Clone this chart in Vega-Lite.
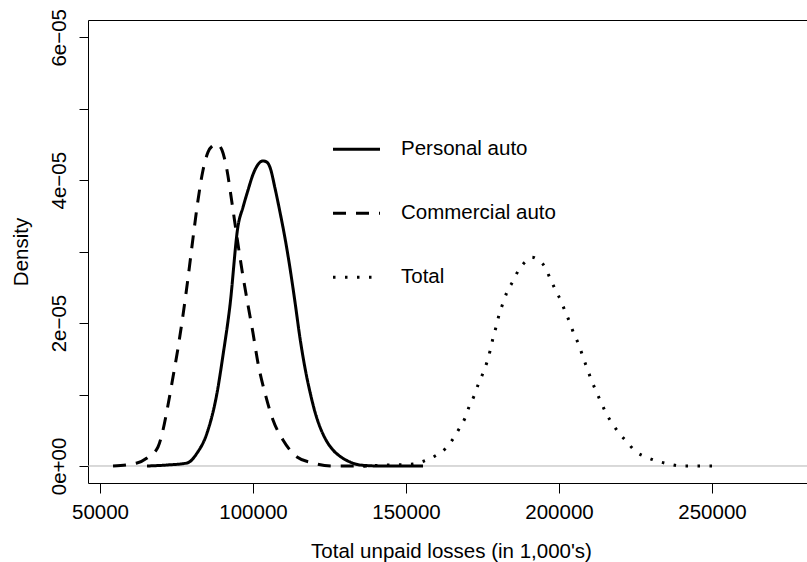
{
  "$schema": "https://vega.github.io/schema/vega-lite/v6.json",
  "width": 720,
  "height": 463,
  "autosize": {"type": "none"},
  "padding": {"left": 88, "top": 20, "right": 0, "bottom": 79},
  "background": "white",
  "config": {
    "view": {"stroke": "black", "strokeWidth": 1},
    "font": "Liberation Sans",
    "axis": {"grid": false, "domain": false, "tickColor": "black", "tickWidth": 1, "labelColor": "black", "titleColor": "black", "labelFont": "Liberation Sans", "titleFont": "Liberation Sans", "labelFontSize": 20.5, "titleFontSize": 20.5, "titleFontWeight": "normal", "labelOverlap": false, "labelFlush": false}
  },
  "datasets": {
    "curves": [
      {"series": "Personal auto", "x": 65360, "d": 0},
      {"series": "Personal auto", "x": 71896, "d": 1.4e-7},
      {"series": "Personal auto", "x": 78432, "d": 4.2e-7},
      {"series": "Personal auto", "x": 81700, "d": 1.8e-6},
      {"series": "Personal auto", "x": 84968, "d": 4.6e-6},
      {"series": "Personal auto", "x": 88236, "d": 1.02e-5},
      {"series": "Personal auto", "x": 90197, "d": 1.55e-5},
      {"series": "Personal auto", "x": 92484, "d": 2.25e-5},
      {"series": "Personal auto", "x": 95098, "d": 3.357e-5},
      {"series": "Personal auto", "x": 96734, "d": 3.622e-5},
      {"series": "Personal auto", "x": 98366, "d": 3.86e-5},
      {"series": "Personal auto", "x": 100000, "d": 4.08e-5},
      {"series": "Personal auto", "x": 101634, "d": 4.22e-5},
      {"series": "Personal auto", "x": 103268, "d": 4.27e-5},
      {"series": "Personal auto", "x": 104575, "d": 4.25e-5},
      {"series": "Personal auto", "x": 105556, "d": 4.18e-5},
      {"series": "Personal auto", "x": 107190, "d": 3.888e-5},
      {"series": "Personal auto", "x": 108824, "d": 3.552e-5},
      {"series": "Personal auto", "x": 110458, "d": 3.189e-5},
      {"series": "Personal auto", "x": 112092, "d": 2.769e-5},
      {"series": "Personal auto", "x": 113726, "d": 2.294e-5},
      {"series": "Personal auto", "x": 115360, "d": 1.79e-5},
      {"series": "Personal auto", "x": 116994, "d": 1.371e-5},
      {"series": "Personal auto", "x": 118628, "d": 1.035e-5},
      {"series": "Personal auto", "x": 120262, "d": 7.55e-6},
      {"series": "Personal auto", "x": 121896, "d": 5.45e-6},
      {"series": "Personal auto", "x": 123857, "d": 3.64e-6},
      {"series": "Personal auto", "x": 126144, "d": 2.24e-6},
      {"series": "Personal auto", "x": 128759, "d": 1.26e-6},
      {"series": "Personal auto", "x": 131700, "d": 5.6e-7},
      {"series": "Personal auto", "x": 134968, "d": 1.4e-7},
      {"series": "Personal auto", "x": 141504, "d": 0},
      {"series": "Personal auto", "x": 155560, "d": 0},
      {"series": "Commercial auto", "x": 54250, "d": 0},
      {"series": "Commercial auto", "x": 62090, "d": 4.2e-7},
      {"series": "Commercial auto", "x": 65360, "d": 1.12e-6},
      {"series": "Commercial auto", "x": 68954, "d": 2.66e-6},
      {"series": "Commercial auto", "x": 70588, "d": 5.03e-6},
      {"series": "Commercial auto", "x": 72222, "d": 8.53e-6},
      {"series": "Commercial auto", "x": 73856, "d": 1.245e-5},
      {"series": "Commercial auto", "x": 75490, "d": 1.65e-5},
      {"series": "Commercial auto", "x": 77124, "d": 2.112e-5},
      {"series": "Commercial auto", "x": 78758, "d": 2.629e-5},
      {"series": "Commercial auto", "x": 80392, "d": 3.189e-5},
      {"series": "Commercial auto", "x": 82026, "d": 3.72e-5},
      {"series": "Commercial auto", "x": 83660, "d": 4.14e-5},
      {"series": "Commercial auto", "x": 85294, "d": 4.392e-5},
      {"series": "Commercial auto", "x": 86602, "d": 4.475e-5},
      {"series": "Commercial auto", "x": 88236, "d": 4.503e-5},
      {"series": "Commercial auto", "x": 89870, "d": 4.42e-5},
      {"series": "Commercial auto", "x": 91504, "d": 4.14e-5},
      {"series": "Commercial auto", "x": 93138, "d": 3.68e-5},
      {"series": "Commercial auto", "x": 94772, "d": 3.2e-5},
      {"series": "Commercial auto", "x": 96406, "d": 2.74e-5},
      {"series": "Commercial auto", "x": 98366, "d": 2.25e-5},
      {"series": "Commercial auto", "x": 100000, "d": 1.86e-5},
      {"series": "Commercial auto", "x": 101634, "d": 1.44e-5},
      {"series": "Commercial auto", "x": 103922, "d": 1.02e-5},
      {"series": "Commercial auto", "x": 106536, "d": 6.43e-6},
      {"series": "Commercial auto", "x": 109804, "d": 3.64e-6},
      {"series": "Commercial auto", "x": 114380, "d": 1.26e-6},
      {"series": "Commercial auto", "x": 119608, "d": 4.2e-7},
      {"series": "Commercial auto", "x": 126144, "d": 0},
      {"series": "Commercial auto", "x": 137260, "d": 0},
      {"series": "Total", "x": 135948, "d": 0},
      {"series": "Total", "x": 144772, "d": 1.4e-7},
      {"series": "Total", "x": 152288, "d": 2.8e-7},
      {"series": "Total", "x": 155883, "d": 7.0e-7},
      {"series": "Total", "x": 159478, "d": 1.4e-6},
      {"series": "Total", "x": 162746, "d": 2.38e-6},
      {"series": "Total", "x": 165360, "d": 3.78e-6},
      {"series": "Total", "x": 167321, "d": 5.17e-6},
      {"series": "Total", "x": 169282, "d": 6.71e-6},
      {"series": "Total", "x": 170589, "d": 8.25e-6},
      {"series": "Total", "x": 172223, "d": 9.79e-6},
      {"series": "Total", "x": 173530, "d": 1.133e-5},
      {"series": "Total", "x": 175164, "d": 1.301e-5},
      {"series": "Total", "x": 176472, "d": 1.455e-5},
      {"series": "Total", "x": 177452, "d": 1.608e-5},
      {"series": "Total", "x": 178432, "d": 1.79e-5},
      {"series": "Total", "x": 179413, "d": 1.944e-5},
      {"series": "Total", "x": 180393, "d": 2.112e-5},
      {"series": "Total", "x": 181700, "d": 2.28e-5},
      {"series": "Total", "x": 183008, "d": 2.434e-5},
      {"series": "Total", "x": 184968, "d": 2.587e-5},
      {"series": "Total", "x": 186602, "d": 2.727e-5},
      {"series": "Total", "x": 189217, "d": 2.867e-5},
      {"series": "Total", "x": 191178, "d": 2.923e-5},
      {"series": "Total", "x": 192812, "d": 2.895e-5},
      {"series": "Total", "x": 195426, "d": 2.783e-5},
      {"series": "Total", "x": 197060, "d": 2.629e-5},
      {"series": "Total", "x": 198694, "d": 2.476e-5},
      {"series": "Total", "x": 200655, "d": 2.308e-5},
      {"series": "Total", "x": 201962, "d": 2.168e-5},
      {"series": "Total", "x": 203596, "d": 2.0e-5},
      {"series": "Total", "x": 204903, "d": 1.846e-5},
      {"series": "Total", "x": 206537, "d": 1.692e-5},
      {"series": "Total", "x": 207844, "d": 1.524e-5},
      {"series": "Total", "x": 209152, "d": 1.371e-5},
      {"series": "Total", "x": 210459, "d": 1.217e-5},
      {"series": "Total", "x": 212093, "d": 1.049e-5},
      {"series": "Total", "x": 213727, "d": 8.95e-6},
      {"series": "Total", "x": 215361, "d": 7.41e-6},
      {"series": "Total", "x": 217322, "d": 6.01e-6},
      {"series": "Total", "x": 219609, "d": 4.62e-6},
      {"series": "Total", "x": 222224, "d": 3.36e-6},
      {"series": "Total", "x": 224838, "d": 2.1e-6},
      {"series": "Total", "x": 228433, "d": 1.26e-6},
      {"series": "Total", "x": 232028, "d": 7.0e-7},
      {"series": "Total", "x": 235949, "d": 2.8e-7},
      {"series": "Total", "x": 239871, "d": 0},
      {"series": "Total", "x": 243792, "d": 0},
      {"series": "Total", "x": 251636, "d": 0}
    ],
    "zero": [{"d": 0}]
  },
  "layer": [
    {
      "data": {"name": "zero"},
      "mark": {"type": "rule", "color": "#b3b3b3", "strokeWidth": 1},
      "encoding": {
        "y": {"field": "d", "type": "quantitative", "scale": {"domain": [-2.38e-6, 6.242e-5], "nice": false, "zero": false}}
      }
    },
    {
      "data": {"name": "curves"},
      "mark": {"type": "line", "color": "black", "strokeWidth": 3, "interpolate": "monotone"},
      "encoding": {
        "x": {
          "field": "x", "type": "quantitative",
          "scale": {"domain": [46078, 281373], "nice": false, "zero": false},
          "axis": {"values": [50000, 100000, 150000, 200000, 250000], "format": "d", "tickSize": 10, "labelPadding": 25, "labelBaseline": "alphabetic", "title": "Total unpaid losses (in 1,000's)", "titleX": 363, "titleY": 74, "titleBaseline": "alphabetic"}
        },
        "y": {
          "field": "d", "type": "quantitative",
          "scale": {"domain": [-2.38e-6, 6.242e-5], "nice": false, "zero": false},
          "axis": {"values": [0, 1e-5, 2e-5, 3e-5, 4e-5, 5e-5, 6e-5], "tickSize": 9, "labelAngle": -90, "labelAlign": "center", "labelBaseline": "alphabetic", "labelPadding": 14,
            "labelExpr": "datum.value == 0 ? '0e+00' : (round(datum.value*1e5) % 2 == 0 ? round(datum.value*1e5) + 'e\u221205' : '')",
            "title": "Density", "titleX": -61, "titleBaseline": "alphabetic"}
        },
        "strokeDash": {
          "field": "series", "type": "nominal",
          "scale": {"domain": ["Personal auto", "Commercial auto", "Total"], "range": [[1, 0], [13, 10], [2.5, 9.5]]},
          "legend": {"title": null, "orient": "none", "legendX": 243.5, "legendY": 104.3, "padding": 0, "symbolType": "stroke", "symbolSize": 2209, "symbolStrokeWidth": 3, "symbolStrokeColor": "black", "labelFontSize": 20.5, "labelFont": "Liberation Sans", "labelColor": "black", "rowPadding": 28, "labelOffset": 19.5}
        }
      }
    }
  ]
}
